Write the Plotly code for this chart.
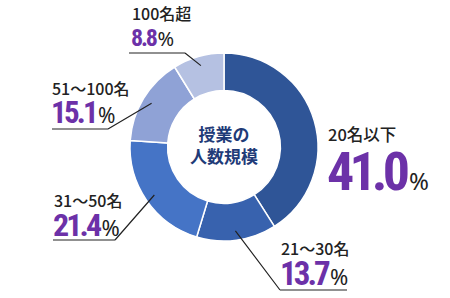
import math
import plotly.graph_objects as go

categories = ["20名以下", "21～30名", "31～50名", "51～100名", "100名超"]
values = [41.0, 13.7, 21.4, 15.1, 8.8]
colors = ["#2F5597", "#3862AE", "#4574C6", "#8FA2D6", "#B5C1E2"]

W, H = 450, 298
CX, CY, R = 224, 147, 94

def px(x):
    return x / W

def py(y):
    return 1 - y / H

fig = go.Figure(go.Pie(
    labels=categories, values=values, sort=False, direction="clockwise", rotation=0,
    hole=0.6, marker=dict(colors=colors, line=dict(color="white", width=1.5)),
    textinfo="none", hoverinfo="skip", showlegend=False,
    domain=dict(x=[px(CX - R), px(CX + R)], y=[py(CY + R), py(CY - R)]),
))

PURPLE = "#6C31A8"
NUM_FONT = "Roboto Condensed, Liberation Sans Narrow, DejaVu Sans Condensed"
JP_FONT = "Noto Sans CJK JP"

# label layout: (left x, name y, name size, pct y, digit size, pct size, underline y, underline x0, x1)
layout_spec = [
    (326, 134, 16.5, 171, 54, 24, None, None, None),
    (279, 248, 16, 273, 33, 22, 290, 280, 347),
    (52, 200, 16, 225, 32, 22, 240, 53, 115),
    (50, 88, 16, 112, 31, 21, 129, 52, 108),
    (130, 13, 16, 38, 24, 20, 53, 129, 185),
]

total = sum(values)
cum = 0
annotations = []
shapes = []
for i, (cat, val) in enumerate(zip(categories, values)):
    mid = (cum + val / 2) / total * 2 * math.pi
    cum += val
    lx, ny, ns, pyy, ds, ps, uy, ux0, ux1 = layout_spec[i]
    annotations.append(dict(
        x=px(lx), y=py(ny), xref="paper", yref="paper", xanchor="left", yanchor="middle",
        text=cat, showarrow=False, font=dict(family=JP_FONT, size=ns, color="#222222", weight=500),
    ))
    s = f"{val:.1f}"
    annotations.append(dict(
        x=px(lx - 1), y=py(pyy), xref="paper", yref="paper", xanchor="left", yanchor="middle",
        text=(f"<span style='font-weight:bold;letter-spacing:-0.09em'>{s[:-1]}</span>"
              f"<span style='font-weight:bold;letter-spacing:-0.02em'>{s[-1]}</span>"
              f"<span style='font-family:Noto Sans;font-size:{ps}px;color:#222222'>%</span>"),
        showarrow=False, font=dict(family=NUM_FONT, size=ds, color=PURPLE),
    ))
    if uy is not None:
        ar = 0.9 * R
        ax = CX + ar * math.sin(mid)
        ay = CY - ar * math.cos(mid)
        ex = ux1 if abs(ux1 - CX) < abs(ux0 - CX) else ux0
        path = f"M {px(ux0)} {py(uy)} L {px(ux1)} {py(uy)} M {px(ex)} {py(uy)} L {px(ax)} {py(ay)}"
        shapes.append(dict(type="path", xref="paper", yref="paper", path=path,
                           line=dict(color="#222222", width=1.2)))

annotations.append(dict(
    x=px(CX), y=py(CY - 3), xref="paper", yref="paper", xanchor="center", yanchor="middle",
    text="<b>授業の<br>人数規模</b>", showarrow=False, align="center",
    font=dict(family=JP_FONT, size=17, color="#1F3B78"),
))

fig.update_layout(
    width=W, height=H, margin=dict(l=0, r=0, t=0, b=0),
    paper_bgcolor="white", plot_bgcolor="white",
    annotations=annotations, shapes=shapes,
)
fig.write_html("out.html")
